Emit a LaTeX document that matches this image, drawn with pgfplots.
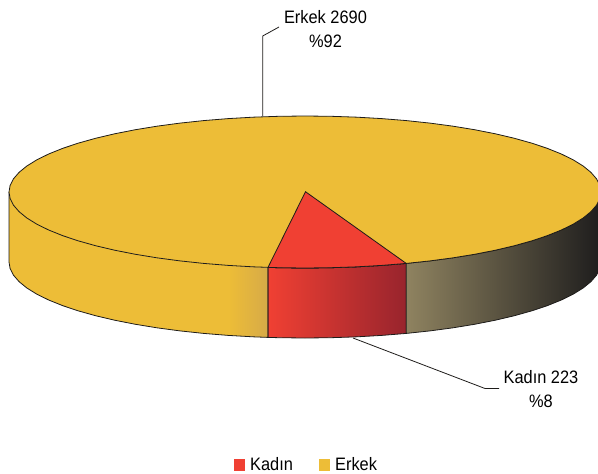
\documentclass[border=0pt]{standalone}
\usepackage{fontspec}
\setmainfont[FakeStretch=0.91]{Liberation Sans}
\usepackage{pgfplots}
\pgfplotsset{compat=1.18}
\definecolor{pieyellow}{RGB}{237,189,55}
\definecolor{piered}{RGB}{240,64,51}
\definecolor{yelend}{RGB}{214,170,72}
\definecolor{redend}{RGB}{152,36,45}
\definecolor{darkstart}{RGB}{143,131,96}
\definecolor{darkmid}{RGB}{84,82,72}
\definecolor{darkend}{RGB}{30,29,29}
\definecolor{linec}{RGB}{30,28,26}
\begin{document}
\begin{tikzpicture}
\path[use as bounding box] (0,0) rectangle (598pt,474pt);
\begin{axis}[
  hide axis, scale only axis, width=598pt, height=474pt,
  at={(0,0)}, anchor=south west,
  xmin=0, xmax=598, ymin=0, ymax=474, y dir=reverse,
  legend columns=2,
  legend cell align=left,
  legend image code/.code={\fill[draw=none,#1] (0pt,-6pt) rectangle (11pt,6pt); \path (14pt,0pt);},
  legend style={at={(axis cs:306.5,465)}, anchor=center, draw=none, fill=none,
    font=\fontsize{18}{18}\selectfont, inner sep=0pt, outer sep=0pt,
    /tikz/every even column/.append style={column sep=24pt}},
]
\addlegendimage{fill=piered}
\addlegendentry{Kadın}
\addlegendimage{fill=pieyellow}
\addlegendentry{Erkek}

% side, flat yellow part
\addplot[forget plot, draw=none, fill=pieyellow] coordinates {
 (9,192) (10.13,198.62) (13.5,205.2) (19.09,211.67) (26.85,217.99) (36.73,224.12) (48.66,230)
 (62.53,235.59) (78.25,240.85) (95.7,245.74) (114.73,250.22) (135.22,254.26) (157,257.82)
 (179.9,260.88) (203.76,263.42) (228.39,265.41) (232,265.6)
 (232,335.6) (228.39,335.41) (203.76,333.42) (179.9,330.88) (157,327.82) (135.22,324.26) (114.73,320.22)
 (95.7,315.74) (78.25,310.85) (62.53,305.59) (48.66,300) (36.73,294.12) (26.85,287.99)
 (19.09,281.67) (13.5,275.2) (10.13,268.62) (9,262)
} --cycle;
% side, yellow fading
\addplot[forget plot, draw=none, left color=pieyellow, right color=yelend] coordinates {
 (228.39,265.41) (253.6,266.85) (268,267.4) (268,337.4) (253.6,336.85) (228.39,335.41)
} --cycle;
% side, red
\addplot[forget plot, draw=linec, line width=0.8pt, left color=piered, right color=redend] coordinates {
 (268,267.4) (279.2,267.71) (305,268) (330.8,267.71) (356.4,266.85) (381.61,265.41) (406.24,263.42)
 (406.24,333.42) (381.61,335.41) (356.4,336.85) (330.8,337.71) (305,338) (279.2,337.71) (268,337.4)
} --cycle;
% side, dark
\addplot[forget plot, draw=linec, line width=0.8pt, left color=darkstart, middle color=darkmid, right color=darkend] coordinates {
 (406.24,263.42) (430.1,260.88) (453,257.82) (474.78,254.26) (495.27,250.22) (514.3,245.74)
 (531.75,240.85) (547.47,235.59) (561.34,230) (573.27,224.12) (583.15,217.99) (590.91,211.67)
 (596.5,205.2) (599.87,198.62) (601,192) (601,262) (599.87,268.62) (596.5,275.2) (590.91,281.67)
 (583.15,287.99) (573.27,294.12) (561.34,300) (547.47,305.59) (531.75,310.85) (514.3,315.74)
 (495.27,320.22) (474.78,324.26) (453,327.82) (430.1,330.88) (406.24,333.42)
} --cycle;
% outline of the left side
\addplot[forget plot, draw=linec, line width=0.8pt] coordinates {
 (9,192) (9,262) (10.13,268.62) (13.5,275.2) (19.09,281.67) (26.85,287.99) (36.73,294.12)
 (48.66,300) (62.53,305.59) (78.25,310.85) (95.7,315.74) (114.73,320.22) (135.22,324.26)
 (157,327.82) (179.9,330.88) (203.76,333.42) (228.39,335.41) (253.6,336.85) (268,337.4) (268,267.4)
};
% top face
\addplot[forget plot, draw=linec, line width=0.8pt, fill=pieyellow] coordinates {
 (601,192) (599.87,198.62) (596.5,205.2) (590.91,211.67) (583.15,217.99) (573.27,224.12) (561.34,230)
 (547.47,235.59) (531.75,240.85) (514.3,245.74) (495.27,250.22) (474.78,254.26) (453,257.82)
 (430.1,260.88) (406.24,263.42) (381.61,265.41) (356.4,266.85) (330.8,267.71) (305,268)
 (279.2,267.71) (253.6,266.85) (228.39,265.41) (203.76,263.42) (179.9,260.88) (157,257.82)
 (135.22,254.26) (114.73,250.22) (95.7,245.74) (78.25,240.85) (62.53,235.59) (48.66,230)
 (36.73,224.12) (26.85,217.99) (19.09,211.67) (13.5,205.2) (10.13,198.62) (9,192)
 (10.13,185.38) (13.5,178.8) (19.09,172.33) (26.85,166.01) (36.73,159.88) (48.66,154)
 (62.53,148.41) (78.25,143.15) (95.7,138.26) (114.73,133.78) (135.22,129.74) (157,126.18)
 (179.9,123.12) (203.76,120.58) (228.39,118.59) (253.6,117.15) (279.2,116.29) (305,116)
 (330.8,116.29) (356.4,117.15) (381.61,118.59) (406.24,120.58) (430.1,123.12) (453,126.18)
 (474.78,129.74) (495.27,133.78) (514.3,138.26) (531.75,143.15) (547.47,148.41) (561.34,154)
 (573.27,159.88) (583.15,166.01) (590.91,172.33) (596.5,178.8) (599.87,185.38)
} --cycle;
% red wedge
\addplot[forget plot, draw=linec, line width=0.8pt, fill=piered] coordinates {
 (305.5,191.7) (268,267.4) (279.2,267.71) (305,268) (330.8,267.71) (356.4,266.85) (381.61,265.41) (406.24,263.42)
} --cycle;
% leaders
\addplot[forget plot, draw=linec, line width=0.8pt] coordinates {(262.7,116) (262.7,36) (279,27)};
\addplot[forget plot, draw=linec, line width=0.8pt] coordinates {(353,338) (485,388.5) (499,388.5)};

\node[align=center, font=\fontsize{18}{24}\selectfont, text=black, inner sep=0pt] at (axis cs:325.5,29) {Erkek 2690\\\%92};
\node[align=center, font=\fontsize{18}{24}\selectfont, text=black, inner sep=0pt] at (axis cs:541,389) {Kadın 223\\\%8};
\end{axis}
\end{tikzpicture}
\end{document}
